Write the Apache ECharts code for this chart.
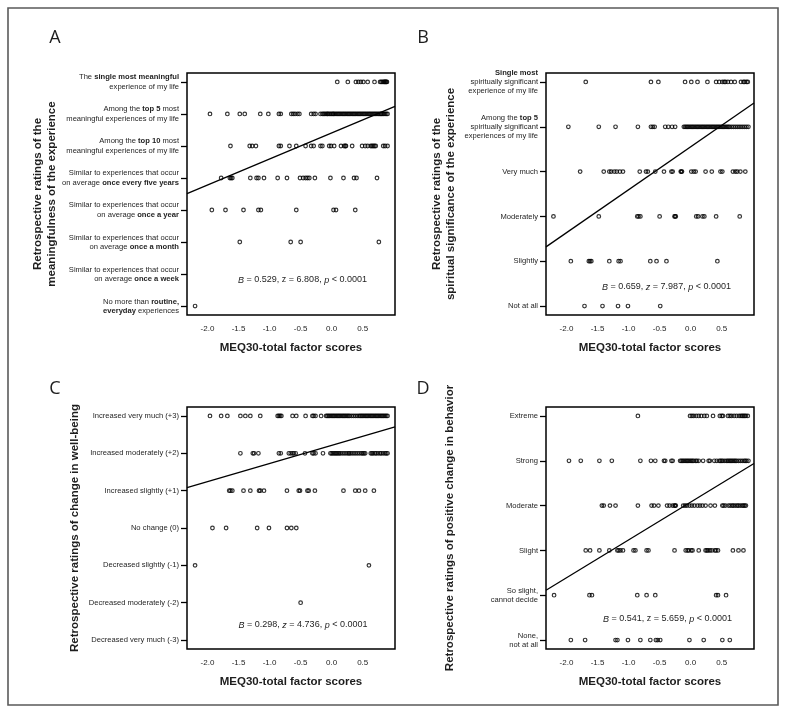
<!DOCTYPE html>
<html><head><meta charset="utf-8">
<script src="https://cdn.jsdelivr.net/npm/echarts@6/dist/echarts.min.js"></script>
<style>html,body{margin:0;padding:0;background:#fff}#c{width:789px;height:716px}</style>
</head><body><div id="c"></div>
<script>
// ---------- DATA ----------
const xTickValues = [-2.0, -1.5, -1.0, -0.5, 0.0, 0.5];
const xRange = [-2.33, 1.02];

// Panel A: levels 0..7
const levelsA = [
  '{n|No more than }{b|routine,}\n{b|everyday}{n| experiences}',
  '{n|Similar to experiences that occur}\n{n|on average }{b|once a week}',
  '{n|Similar to experiences that occur}\n{n|on average }{b|once a month}',
  '{n|Similar to experiences that occur}\n{n|on average }{b|once a year}',
  '{n|Similar to experiences that occur}\n{n|on average }{b|once every five years}',
  '{n|Among the }{b|top 10}{n| most}\n{n|meaningful experiences of my life}',
  '{n|Among the }{b|top 5}{n| most}\n{n|meaningful experiences of my life}',
  '{n|The }{b|single most meaningful}\n{n|experience of my life}'
];
const scoresA = [
  [-2.20],
  [],
  [-1.48, -0.66, -0.50, 0.76],
  [-1.93, -1.71, -1.42, -1.18, -1.14, -0.57, 0.03, 0.07, 0.38],
  [-1.78, -1.64, -1.62, -1.60, -1.31, -1.21, -1.18, -1.09, -0.87, -0.72, -0.51, -0.46, -0.42, -0.39, -0.36, -0.27, -0.02, 0.19, 0.36, 0.40, 0.73],
  [-1.63, -1.32, -1.28, -1.22, -0.85, -0.82, -0.68, -0.57, -0.42, -0.33, -0.29, -0.18, -0.15, -0.04, -0.01, 0.04, 0.15, 0.20, 0.22, 0.23, 0.33, 0.49, 0.54, 0.58, 0.63, 0.65, 0.67, 0.69, 0.71, 0.83, 0.86, 0.90],
  [-1.96, -1.68, -1.48, -1.40, -1.15, -1.02, -0.85, -0.82, -0.65, -0.62, -0.59, -0.55, -0.52, -0.33, -0.29, -0.26, -0.18,
   -0.15, -0.13, -0.11, -0.09, -0.07, -0.06, -0.04, -0.02, 0.00, 0.02, 0.03, 0.05, 0.07, 0.09, 0.11, 0.13, 0.15, 0.17, 0.19, 0.21, 0.23, 0.25, 0.27, 0.29, 0.31, 0.33, 0.35, 0.37, 0.39, 0.41, 0.43, 0.45, 0.47, 0.49, 0.51, 0.53, 0.55, 0.57, 0.59, 0.61, 0.63, 0.65, 0.67, 0.69, 0.71, 0.73, 0.75, 0.77, 0.79, 0.80, 0.82, 0.84, 0.86, 0.88, 0.90],
  [0.09, 0.26, 0.39, 0.43, 0.47, 0.51, 0.58, 0.69, 0.78, 0.80, 0.82, 0.84, 0.85, 0.86, 0.87, 0.88, 0.89]
];
const fitA = [3.51, 6.24];
const statA = '{i|B}{n| = 0.529, z = 6.808, }{i|p}{n| < 0.0001}';

// Panel B: levels 0..5
const levelsB = [
  '{n|Not at all}',
  '{n|Slightly}',
  '{n|Moderately}',
  '{n|Very much}',
  '{n|Among the }{b|top 5}\n{n|spiritually significant}\n{n|experiences of my life}',
  '{b|Single most}\n{n|spiritually significant}\n{n|experience of my life}'
];
const scoresB = [
  [-1.71, -1.42, -1.17, -1.01, -0.49],
  [-1.93, -1.64, -1.62, -1.60, -1.31, -1.16, -1.13, -0.65, -0.55, -0.39, 0.43],
  [-2.21, -1.48, -0.86, -0.84, -0.81, -0.50, -0.26, -0.25, -0.24, 0.09, 0.12, 0.19, 0.22, 0.41, 0.79],
  [-1.78, -1.40, -1.31, -1.28, -1.23, -1.19, -1.14, -1.09, -0.82, -0.72, -0.69, -0.57, -0.43, -0.31, -0.29, -0.16, -0.15, -0.14, 0.01, 0.05, 0.08, 0.24, 0.34, 0.48, 0.51, 0.68, 0.72, 0.75, 0.80, 0.88],
  [-1.97, -1.48, -1.21, -0.85, -0.64, -0.61, -0.58, -0.41, -0.36, -0.30, -0.25,
   -0.11, -0.09, -0.07, -0.05, -0.03, -0.01, 0.01, 0.03, 0.05, 0.07, 0.09, 0.11, 0.13, 0.15, 0.17, 0.19, 0.21, 0.23, 0.25, 0.27, 0.29, 0.31, 0.33, 0.35, 0.37, 0.39, 0.41, 0.43, 0.45, 0.47, 0.49, 0.51, 0.53, 0.55, 0.57, 0.59, 0.61, 0.63, 0.66, 0.69, 0.72, 0.75, 0.78, 0.81, 0.84, 0.87, 0.90, 0.93],
  [-1.69, -0.64, -0.52, -0.09, 0.01, 0.11, 0.27, 0.41, 0.46, 0.51, 0.54, 0.56, 0.60, 0.65, 0.71, 0.81, 0.85, 0.87, 0.90, 0.92]
];
const fitB = [1.32, 4.53];
const statB = '{i|B}{n| = 0.659, }{i|z}{n| = 7.987, }{i|p}{n| < 0.0001}';

// Panel C: levels -3..+3
const levelValuesC = [-3, -2, -1, 0, 1, 2, 3];
const levelsC = [
  '{n|Decreased very much (-3)}',
  '{n|Decreased moderately (-2)}',
  '{n|Decreased slightly (-1)}',
  '{n|No change (0)}',
  '{n|Increased slightly (+1)}',
  '{n|Increased moderately (+2)}',
  '{n|Increased very much (+3)}'
];
const scoresC = [
  [],
  [-0.50],
  [-2.20, 0.60],
  [-1.92, -1.70, -1.20, -1.01, -0.72, -0.65, -0.57],
  [-1.65, -1.63, -1.60, -1.42, -1.31, -1.17, -1.15, -1.09, -0.72, -0.53, -0.51, -0.39, -0.37, -0.27, 0.19, 0.38, 0.44, 0.54, 0.68],
  [-1.47, -1.27, -1.25, -1.18, -0.85, -0.82, -0.69, -0.66, -0.63, -0.61, -0.58, -0.43, -0.31, -0.29, -0.26, -0.14,
   -0.02, 0.00, 0.02, 0.04, 0.06, 0.08, 0.10, 0.12, 0.14, 0.17, 0.20, 0.23, 0.26, 0.28, 0.30, 0.33, 0.36, 0.39, 0.42, 0.45, 0.48, 0.50, 0.52, 0.54,
   0.63, 0.65, 0.67, 0.70, 0.72, 0.75, 0.78, 0.80, 0.83, 0.86, 0.88, 0.90],
  [-1.96, -1.78, -1.68, -1.47, -1.39, -1.31, -1.15, -0.87, -0.85, -0.83, -0.81, -0.63, -0.57, -0.42, -0.31, -0.29, -0.26, -0.17,
   -0.09, -0.07, -0.05, -0.03, -0.01, 0.01, 0.03, 0.05, 0.07, 0.09, 0.11, 0.13, 0.15, 0.17, 0.19, 0.21, 0.23, 0.25, 0.27, 0.29, 0.32, 0.35, 0.38, 0.41, 0.44, 0.46, 0.48, 0.50, 0.52, 0.54, 0.56, 0.58, 0.60, 0.62, 0.64, 0.66, 0.68, 0.70, 0.72, 0.74, 0.76, 0.78, 0.80, 0.82, 0.84, 0.86, 0.88, 0.90]
];
const fitC = [1.08, 2.71];
const statC = '{i|B}{n| = 0.298, }{i|z}{n| = 4.736, }{i|p}{n| < 0.0001}';

// Panel D: levels 0..5
const levelsD = [
  '{n|None,}\n{n|not at all}',
  '{n|So slight,}\n{n|cannot decide}',
  '{n|Slight}',
  '{n|Moderate}',
  '{n|Strong}',
  '{n|Extreme}'
];
const scoresD = [
  [-1.93, -1.70, -1.21, -1.18, -1.01, -0.81, -0.65, -0.56, -0.53, -0.49, -0.02, 0.21, 0.51, 0.63],
  [-2.20, -1.63, -1.59, -0.86, -0.71, -0.57, 0.41, 0.44, 0.57],
  [-1.69, -1.62, -1.47, -1.31, -1.18, -1.16, -1.13, -1.09, -0.92, -0.89, -0.71, -0.68, -0.26, -0.08, -0.05, -0.03, 0.01, 0.03, 0.13, 0.24, 0.26, 0.28, 0.31, 0.34, 0.39, 0.41, 0.44, 0.68, 0.77, 0.85],
  [-1.43, -1.40, -1.30, -1.21, -0.85, -0.63, -0.59, -0.52, -0.38, -0.34, -0.29, -0.26, -0.25, -0.24,
   -0.12, -0.09, -0.06, -0.02, 0.02, 0.06, 0.11, 0.15, 0.19, 0.24, 0.32, 0.39,
   0.51, 0.53, 0.56, 0.61, 0.64, 0.67, 0.69, 0.72, 0.75, 0.77, 0.80, 0.83, 0.85, 0.87, 0.89],
  [-1.96, -1.77, -1.47, -1.27, -0.81, -0.64, -0.57, -0.43, -0.41, -0.31, -0.29,
   -0.17, -0.15, -0.13, -0.11, -0.09, -0.07, -0.05, -0.03, -0.01, 0.01, 0.03, 0.05, 0.08, 0.10, 0.13,
   0.20, 0.29, 0.31, 0.38, 0.42,
   0.46, 0.48, 0.50, 0.52, 0.55, 0.58, 0.60, 0.62, 0.64, 0.66, 0.68, 0.70, 0.72, 0.74, 0.77, 0.80, 0.83, 0.86, 0.88, 0.90, 0.93],
  [-0.85, -0.01, 0.02, 0.05, 0.09, 0.13, 0.17, 0.22, 0.26, 0.36, 0.47, 0.50, 0.52, 0.60, 0.63, 0.66, 0.70, 0.74, 0.78, 0.81, 0.83, 0.85, 0.87, 0.89, 0.92]
];
const fitD = [1.11, 3.94];
const statD = '{i|B}{n| = 0.541, z = 5.659, }{i|p}{n| < 0.0001}';

const xTitle = 'MEQ30-total factor scores';
const yTitles = [
  'Retrospective ratings of the\nmeaningfulness of the experience',
  'Retrospective ratings of the\nspiritual significance of the experience',
  'Retrospective ratings of change in well-being',
  'Retrospective ratings of positive change in behavior'
];
const panelLetters = ['A', 'B', 'C', 'D'];

// ---------- LAYOUT ----------
const FONT = '"Liberation Sans", Arial, sans-serif';
const TXT = '#1e1e1e';
const panels = [
  { grid: { left: 187, top: 73, width: 208, height: 242 }, levels: levelsA, values: [0,1,2,3,4,5,6,7], scores: scoresA, yr: [-0.28, 7.28], fit: fitA },
  { grid: { left: 546, top: 73, width: 208, height: 242 }, levels: levelsB, values: [0,1,2,3,4,5], scores: scoresB, yr: [-0.2, 5.2], fit: fitB },
  { grid: { left: 187, top: 407, width: 208, height: 242 }, levels: levelsC, values: levelValuesC, scores: scoresC, yr: [-3.24, 3.24], fit: fitC },
  { grid: { left: 546, top: 407, width: 208, height: 242 }, levels: levelsD, values: [0,1,2,3,4,5], scores: scoresD, yr: [-0.2, 5.2], fit: fitD }
];

const richLabel = {
  n: { fontSize: 7.6, fontFamily: FONT, color: TXT, align: 'right', lineHeight: 9.2 },
  b: { fontSize: 7.6, fontFamily: FONT, color: TXT, fontWeight: 'bold', align: 'right', lineHeight: 9.2 }
};

const grids = [], xAxes = [], yAxes = [], series = [];
panels.forEach((p, i) => {
  grids.push(Object.assign({ show: true, borderColor: '#000', borderWidth: 1.5, backgroundColor: 'transparent' }, p.grid));
  xAxes.push({
    type: 'value', gridIndex: i, min: xRange[0], max: xRange[1], position: 'bottom',
    axisLine: { show: false, onZero: false }, axisTick: { show: false }, splitLine: { show: false },
    axisLabel: { customValues: xTickValues, formatter: v => v.toFixed(1), fontSize: 8, fontFamily: FONT, color: TXT, margin: 10 }
  });
  yAxes.push({
    type: 'value', gridIndex: i, min: p.yr[0], max: p.yr[1], position: 'left',
    axisLine: { show: false, onZero: false }, splitLine: { show: false },
    axisTick: { show: true, customValues: p.values, length: 6, lineStyle: { color: '#000', width: 1.3 } },
    axisLabel: {
      customValues: p.values, margin: 8,
      formatter: v => p.levels[p.values.indexOf(Math.round(v))] || '',
      rich: richLabel
    }
  });
  const pts = [];
  p.scores.forEach((row, k) => row.forEach(x => pts.push([x, p.values[k]])));
  series.push({
    type: 'scatter', xAxisIndex: i, yAxisIndex: i, data: pts, symbol: 'circle', symbolSize: 3.6,
    itemStyle: { color: 'rgba(0,0,0,0)', borderColor: '#000', borderWidth: 1.2 }, silent: true
  });
  series.push({
    type: 'line', xAxisIndex: i, yAxisIndex: i, data: [[xRange[0], p.fit[0]], [xRange[1], p.fit[1]]],
    symbol: 'none', lineStyle: { color: '#000', width: 1.3 }, silent: true
  });
});

function txt(x, y, text, font, extra) {
  return {
    type: 'text', x: x, y: y,
    style: Object.assign({ text: text, font: font, fill: TXT, align: 'center', verticalAlign: 'middle', textAlign: 'center', textVerticalAlign: 'middle' }, extra || {})
  };
}
const statRich = {
  n: { fontSize: 9, fontFamily: FONT, color: TXT },
  i: { fontSize: 9, fontFamily: FONT, color: TXT, fontStyle: 'italic' }
};
function statTxt(x, y, text) {
  return { type: 'text', x: x, y: y, style: { text: text, rich: statRich, align: 'center', verticalAlign: 'middle', textAlign: 'center', textVerticalAlign: 'middle', fill: TXT } };
}

const graphic = [
  { type: 'rect', shape: { x: 8, y: 8, width: 770, height: 697 }, style: { fill: 'none', stroke: '#5a5a5a', lineWidth: 1.6 } },
  txt(55, 38, panelLetters[0], '18px "Open Sans", sans-serif'),
  txt(423, 38, panelLetters[1], '18px "Open Sans", sans-serif'),
  txt(55, 389, panelLetters[2], '18px "Open Sans", sans-serif'),
  txt(423, 389, panelLetters[3], '18px "Open Sans", sans-serif'),
  txt(291, 348, xTitle, 'bold 11.5px ' + FONT),
  txt(650, 348, xTitle, 'bold 11.5px ' + FONT),
  txt(291, 682, xTitle, 'bold 11.5px ' + FONT),
  txt(650, 682, xTitle, 'bold 11.5px ' + FONT),
  Object.assign(txt(45, 194, yTitles[0], 'bold 11.5px ' + FONT, { lineHeight: 14 }), { rotation: Math.PI / 2 }),
  Object.assign(txt(443.5, 194, yTitles[1], 'bold 11.5px ' + FONT, { lineHeight: 14 }), { rotation: Math.PI / 2 }),
  Object.assign(txt(75, 528, yTitles[2], 'bold 11.5px ' + FONT), { rotation: Math.PI / 2 }),
  Object.assign(txt(450, 528, yTitles[3], 'bold 11.5px ' + FONT), { rotation: Math.PI / 2 }),
  statTxt(302.5, 280, statA),
  statTxt(666.5, 287, statB),
  statTxt(303, 625, statC),
  statTxt(667.5, 619, statD)
];

const chart = echarts.init(document.getElementById('c'), null, { renderer: 'canvas' });
chart.setOption({
  animation: false,
  backgroundColor: '#fff',
  grid: grids, xAxis: xAxes, yAxis: yAxes, series: series, graphic: graphic
});
</script>
</body></html>
